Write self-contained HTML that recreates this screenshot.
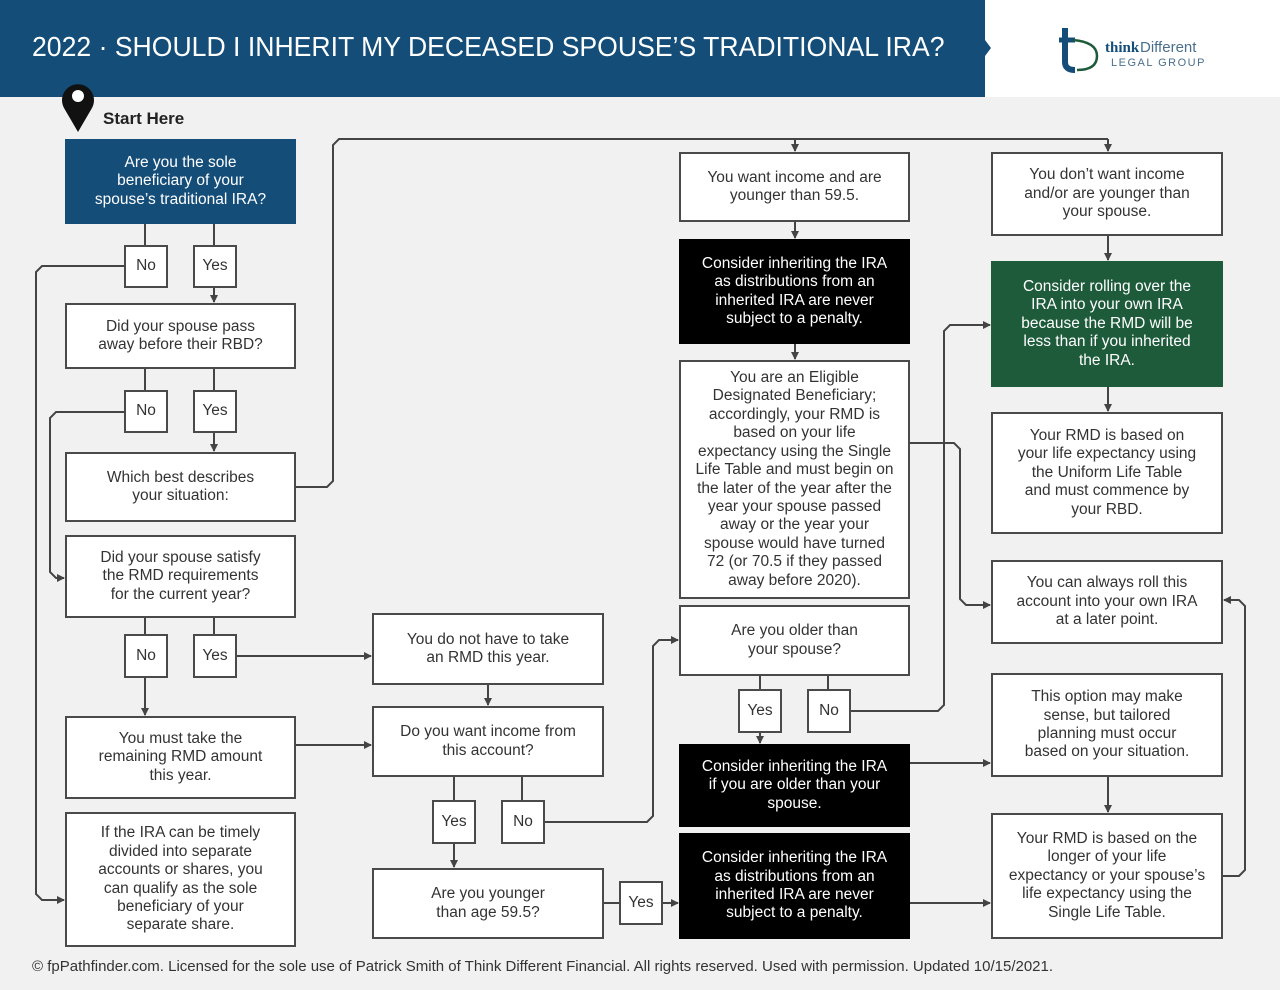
<!DOCTYPE html>
<html><head><meta charset="utf-8"><style>
body{margin:0;width:1280px;height:990px;background:#f1f1f1;position:relative;overflow:hidden;font-family:"Liberation Sans",sans-serif;}
.hdr{position:absolute;left:0;top:0;width:985px;height:97px;background:#134d78;}
.hdr span{position:absolute;left:32px;top:31px;color:#fff;font-size:28px;white-space:nowrap;transform:scaleX(0.95);transform-origin:left top;}
.logo{position:absolute;left:985px;top:0;width:295px;height:97px;background:#fff;}
.b{position:absolute;box-sizing:border-box;border:2px solid #4a4a4a;background:#fff;color:#333;font-size:15.5px;line-height:18.4px;text-align:center;display:flex;align-items:center;justify-content:center;padding:0 2px;white-space:nowrap;}
.blk{background:#000;color:#fff;border-color:#000;}
.blu{background:#134d78;color:#fff;border-color:#134d78;}
.grn{background:#1d5b3b;color:#fff;border-color:#1d5b3b;}
svg{position:absolute;left:0;top:0;}
.foot{position:absolute;left:32px;top:958px;font-size:15px;color:#333;white-space:nowrap;}
</style></head><body>
<div class="hdr"><span>2022 · SHOULD I INHERIT MY DECEASED SPOUSE’S TRADITIONAL IRA?</span></div>
<div class="logo">
<svg width="295" height="97" style="position:static">
<path d="M80 28 V62 Q80 70 90 70" fill="none" stroke="#134d78" stroke-width="6"/>
<path d="M74 40 H90" stroke="#134d78" stroke-width="5"/>
<path d="M88 40 Q112 42 112 56 Q112 70 92 70" fill="none" stroke="#1d5b3b" stroke-width="2.5"/>
<text x="120" y="52" font-family="Liberation Serif" font-weight="bold" font-size="15" fill="#134d78">think</text>
<text x="155" y="52" font-family="Liberation Sans" font-size="15" fill="#4a6f8a">Different</text>
<text x="126" y="66" font-family="Liberation Sans" font-size="11" fill="#4a6f8a" letter-spacing="1.5">LEGAL GROUP</text>
</svg></div>
<svg width="1280" height="990">
<defs><marker id="a" markerWidth="8" markerHeight="8" refX="7" refY="4" orient="auto" markerUnits="userSpaceOnUse"><path d="M0,0 L8,4 L0,8z" fill="#444"/></marker></defs>
<polygon points="985,40 991,48 985,56" fill="#134d78"/>
<g transform="translate(78,100)"><path d="M0,32 L-14,8 A16,16 0 1,1 14,8 Z" fill="#111"/><circle cx="0" cy="-4" r="6" fill="#fff"/></g>
<text x="103" y="124" font-size="17" font-weight="bold" fill="#222">Start Here</text>
<g fill="none" stroke="#444" stroke-width="2">
<path d="M145 224V245M214 224V245"/>
<path d="M214 288V302" marker-end="url(#a)"/>
<path d="M124 266H42L36 272V894L42 900H64" marker-end="url(#a)"/>
<path d="M145 369V390M214 369V390"/>
<path d="M214 433V451" marker-end="url(#a)"/>
<path d="M124 412H56L50 418V572L56 578H64" marker-end="url(#a)"/>
<path d="M296 487H327L333 481V145L339 139H1108" />
<path d="M795 139V151" marker-end="url(#a)"/><path d="M1108 139V151" marker-end="url(#a)"/>
<path d="M145 618V634M214 618V634"/>
<path d="M145 678V715" marker-end="url(#a)"/>
<path d="M237 656H371" marker-end="url(#a)"/>
<path d="M296 745H371" marker-end="url(#a)"/>
<path d="M488 685V705" marker-end="url(#a)"/>
<path d="M454 777V800M522 777V800"/>
<path d="M454 844V867" marker-end="url(#a)"/>
<path d="M545 822H647L653 816V646L659 640H678" marker-end="url(#a)"/>
<path d="M604 903H619"/>
<path d="M663 903H678" marker-end="url(#a)"/>
<path d="M795 222V238" marker-end="url(#a)"/>
<path d="M795 344V359" marker-end="url(#a)"/>
<path d="M910 443H954L960 449V599L966 605H990" marker-end="url(#a)"/>
<path d="M760 676V689M828 676V689"/>
<path d="M760 733V743" marker-end="url(#a)"/>
<path d="M851 711H938L944 705V331L950 325H990" marker-end="url(#a)"/>
<path d="M910 763H990" marker-end="url(#a)"/>
<path d="M910 903H990" marker-end="url(#a)"/>
<path d="M1108 236V260" marker-end="url(#a)"/>
<path d="M1108 387V411" marker-end="url(#a)"/>
<path d="M1108 777V812" marker-end="url(#a)"/>
<path d="M1223 876H1239L1245 870V606L1239 600H1224" marker-end="url(#a)"/>
</g>
</svg>
<div class="b blu" style="left:65px;top:139px;width:231px;height:85px">Are you the sole<br>beneficiary of your<br>spouse’s traditional IRA?</div>
<div class="b" style="left:124px;top:245px;width:44px;height:43px">No</div>
<div class="b" style="left:193px;top:245px;width:44px;height:43px">Yes</div>
<div class="b" style="left:65px;top:303px;width:231px;height:66px">Did your spouse pass<br>away before their RBD?</div>
<div class="b" style="left:124px;top:390px;width:44px;height:43px">No</div>
<div class="b" style="left:193px;top:390px;width:44px;height:43px">Yes</div>
<div class="b" style="left:65px;top:452px;width:231px;height:70px">Which best describes<br>your situation:</div>
<div class="b" style="left:65px;top:535px;width:231px;height:83px">Did your spouse satisfy<br>the RMD requirements<br>for the current year?</div>
<div class="b" style="left:124px;top:634px;width:44px;height:44px">No</div>
<div class="b" style="left:193px;top:634px;width:44px;height:44px">Yes</div>
<div class="b" style="left:65px;top:716px;width:231px;height:83px">You must take the<br>remaining RMD amount<br>this year.</div>
<div class="b" style="left:65px;top:812px;width:231px;height:135px">If the IRA can be timely<br>divided into separate<br>accounts or shares, you<br>can qualify as the sole<br>beneficiary of your<br>separate share.</div>
<div class="b" style="left:372px;top:613px;width:232px;height:72px">You do not have to take<br>an RMD this year.</div>
<div class="b" style="left:372px;top:706px;width:232px;height:71px">Do you want income from<br>this account?</div>
<div class="b" style="left:432px;top:800px;width:44px;height:44px">Yes</div>
<div class="b" style="left:501px;top:800px;width:44px;height:44px">No</div>
<div class="b" style="left:372px;top:868px;width:232px;height:71px">Are you younger<br>than age 59.5?</div>
<div class="b" style="left:619px;top:881px;width:44px;height:44px">Yes</div>
<div class="b" style="left:679px;top:152px;width:231px;height:70px">You want income and are<br>younger than 59.5.</div>
<div class="b blk" style="left:679px;top:239px;width:231px;height:105px">Consider inheriting the IRA<br>as distributions from an<br>inherited IRA are never<br>subject to a penalty.</div>
<div class="b" style="left:679px;top:360px;width:231px;height:239px">You are an Eligible<br>Designated Beneficiary;<br>accordingly, your RMD is<br>based on your life<br>expectancy using the Single<br>Life Table and must begin on<br>the later of the year after the<br>year your spouse passed<br>away or the year your<br>spouse would have turned<br>72 (or 70.5 if they passed<br>away before 2020).</div>
<div class="b" style="left:679px;top:605px;width:231px;height:71px">Are you older than<br>your spouse?</div>
<div class="b" style="left:738px;top:689px;width:44px;height:44px">Yes</div>
<div class="b" style="left:807px;top:689px;width:44px;height:44px">No</div>
<div class="b blk" style="left:679px;top:744px;width:231px;height:83px">Consider inheriting the IRA<br>if you are older than your<br>spouse.</div>
<div class="b blk" style="left:679px;top:833px;width:231px;height:106px">Consider inheriting the IRA<br>as distributions from an<br>inherited IRA are never<br>subject to a penalty.</div>
<div class="b" style="left:991px;top:152px;width:232px;height:84px">You don’t want income<br>and/or are younger than<br>your spouse.</div>
<div class="b grn" style="left:991px;top:261px;width:232px;height:126px">Consider rolling over the<br>IRA into your own IRA<br>because the RMD will be<br>less than if you inherited<br>the IRA.</div>
<div class="b" style="left:991px;top:412px;width:232px;height:122px">Your RMD is based on<br>your life expectancy using<br>the Uniform Life Table<br>and must commence by<br>your RBD.</div>
<div class="b" style="left:991px;top:560px;width:232px;height:84px">You can always roll this<br>account into your own IRA<br>at a later point.</div>
<div class="b" style="left:991px;top:673px;width:232px;height:104px">This option may make<br>sense, but tailored<br>planning must occur<br>based on your situation.</div>
<div class="b" style="left:991px;top:813px;width:232px;height:126px">Your RMD is based on the<br>longer of your life<br>expectancy or your spouse’s<br>life expectancy using the<br>Single Life Table.</div>
<div class="foot">© fpPathfinder.com. Licensed for the sole use of Patrick Smith of Think Different Financial. All rights reserved. Used with permission. Updated 10/15/2021.</div>
</body></html>
